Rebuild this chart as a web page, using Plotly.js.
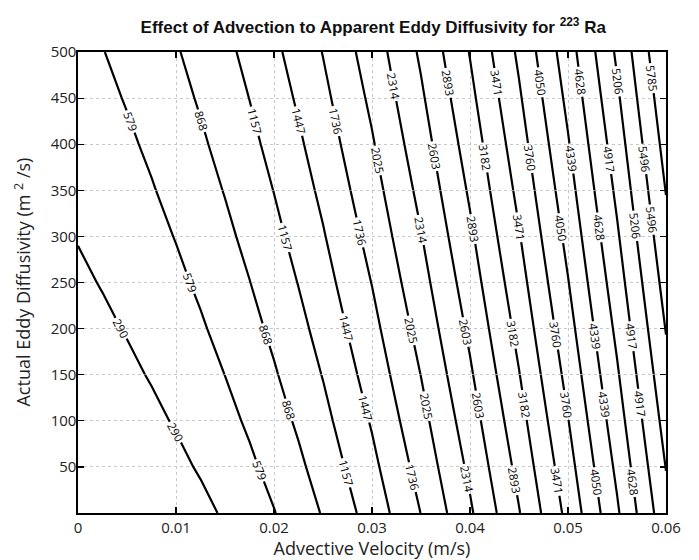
<!DOCTYPE html>
<html>
<head>
<meta charset="utf-8">
<script src="https://cdn.plot.ly/plotly-3.0.1.min.js"></script>
<style>html,body{margin:0;padding:0;background:#fff;}#chart{width:699px;height:560px;}</style>
</head>
<body>
<div id="chart"></div>
<script>
// Advective velocity (m/s)
const velocity = [0, 0.0025, 0.005, 0.0075, 0.01, 0.0125, 0.015, 0.0175, 0.02, 0.0225, 0.025,
                  0.03, 0.035, 0.04, 0.045, 0.05, 0.055, 0.06];
// Actual eddy diffusivity (m^2/s)
const diffusivity = [0, 50, 100, 150, 200, 250, 300, 350, 400, 450, 500];
// Apparent eddy diffusivity (m^2/s), one row per actual diffusivity
const apparentK0   = [0, 8.9, 35.5, 79.9, 142.1, 222.0, 319.7, 435.2, 568.4, 719.4, 888.1, 1278.9, 1740.7, 2273.6, 2877.5, 3552.5, 4298.5, 5115.6];
const apparentK50  = [50, 76.0, 113.5, 164.8, 231.3, 314.1, 413.7, 530.5, 664.6, 816.3, 985.6, 1377.1, 1839.4, 2372.6, 2976.7, 3651.8, 4398.0, 5215.1];
const apparentK100 = [100, 134.6, 180.0, 237.9, 309.8, 396.8, 499.7, 619.0, 755.2, 908.4, 1078.9, 1472.1, 1935.6, 2469.6, 3074.3, 3749.8, 4496.3, 5313.7];
const apparentK150 = [150, 191.2, 242.9, 306.5, 383.4, 474.6, 581.0, 703.2, 841.7, 996.8, 1168.9, 1564.5, 2029.6, 2564.8, 3170.4, 3846.7, 4593.6, 5411.4];
const apparentK200 = [200, 246.8, 303.9, 372.6, 454.0, 549.2, 659.0, 784.2, 925.2, 1082.4, 1256.3, 1654.7, 2121.9, 2658.6, 3265.3, 3942.4, 4690.0, 5508.3];
const apparentK250 = [250, 301.8, 363.7, 436.9, 522.5, 621.5, 734.7, 862.7, 1006.3, 1165.8, 1341.5, 1743.0, 2212.5, 2750.9, 3358.9, 4037.0, 4785.5, 5604.4];
const apparentK300 = [300, 356.3, 422.5, 499.9, 589.4, 692.0, 808.4, 939.4, 1085.5, 1247.2, 1425.0, 1829.7, 2301.6, 2841.9, 3451.5, 4130.7, 4880.1, 5699.8];
const apparentK350 = [350, 410.4, 480.7, 561.9, 655.1, 761.1, 880.6, 1014.4, 1163.1, 1327.1, 1506.8, 1914.9, 2389.5, 2931.8, 3543.0, 4223.5, 4973.9, 5794.5];
const apparentK400 = [400, 464.2, 538.3, 623.2, 719.8, 829.0, 951.6, 1088.2, 1239.3, 1405.6, 1587.3, 1998.9, 2476.1, 3020.6, 3633.5, 4315.4, 5066.9, 5888.4];
const apparentK450 = [450, 517.8, 595.4, 683.8, 783.7, 896.0, 1021.5, 1160.7, 1314.3, 1482.8, 1666.6, 2081.6, 2561.7, 3108.5, 3723.1, 4406.5, 5159.3, 5981.8];
const apparentK500 = [500, 571.2, 652.2, 743.8, 846.9, 962.2, 1090.5, 1232.3, 1388.3, 1559.0, 1744.9, 2163.3, 2646.3, 3195.4, 3812.0, 4496.9, 5250.9, 6074.4];
// Contour levels (labels 290, 579, 868, ... 5206, 5496, 5785)
const levelStart = 289.745;
const levelStep = 289.215;
const levelEnd = 5785.2;
const xTickVals = [0, 0.01, 0.02, 0.03, 0.04, 0.05, 0.06];
const xTickText = ['0', '0.01', '0.02', '0.03', '0.04', '0.05', '0.06'];
const yTickVals = [50, 100, 150, 200, 250, 300, 350, 400, 450, 500];

const zGrid = [apparentK0, apparentK50, apparentK100, apparentK150, apparentK200, apparentK250,
               apparentK300, apparentK350, apparentK400, apparentK450, apparentK500];

const font = 'Open Sans, Noto Sans, Liberation Sans, Arial, sans-serif';

// The contour field is drawn in three stacked bands (sharing their boundary rows)
// so that every line gets a label in each band, as in the original figure.
const bands = [[0, 3], [3, 7], [7, 10]];
const traces = bands.map(([a, b]) => ({
  type: 'contour',
  x: velocity,
  y: diffusivity.slice(a, b + 1),
  z: zGrid.slice(a, b + 1),
  showscale: false,
  hoverinfo: 'skip',
  contours: {
    coloring: 'none',
    start: levelStart,
    end: levelEnd,
    size: levelStep,
    showlabels: true,
    labelfont: {family: font, size: 11.5, color: '#000'},
    labelformat: '.0f'
  },
  line: {color: '#000', width: 2.2, smoothing: 0}
}));

const axisCommon = {
  showline: true,
  linecolor: '#000',
  linewidth: 1.6,
  mirror: 'ticks',
  ticks: 'inside',
  ticklen: 6,
  tickwidth: 1.2,
  tickcolor: '#000',
  showgrid: true,
  gridcolor: '#c8c8c8',
  gridwidth: 1,
  griddash: 'dot',
  zeroline: false,
  tickfont: {family: font, size: 15, color: '#222'}
};

const layout = {
  width: 699,
  height: 560,
  paper_bgcolor: '#fff',
  plot_bgcolor: '#fff',
  margin: {l: 78, r: 33, t: 52, b: 47},
  showlegend: false,
  title: {
    text: '<b>Effect of Advection to Apparent Eddy Diffusivity for <sup>223</sup> Ra</b>',
    font: {family: 'Liberation Sans Narrow, Arial Narrow, Liberation Sans, Arial, sans-serif', size: 17, color: '#111'},
    x: 0.534, xanchor: 'center', xref: 'container',
    y: 0.952, yanchor: 'middle', yref: 'container'
  },
  xaxis: Object.assign({}, axisCommon, {
    range: [0, 0.06],
    tickvals: xTickVals,
    ticktext: xTickText,
    title: {text: 'Advective Velocity (m/s)', font: {family: font, size: 18, color: '#222'}, standoff: 8}
  }),
  yaxis: Object.assign({}, axisCommon, {
    range: [0, 500],
    tickvals: yTickVals,
    ticklabelstandoff: -3
  }),
  annotations: [{
    text: 'Actual Eddy Diffusivity (m <sup>2</sup> /s)',
    xref: 'paper', yref: 'paper',
    x: -0.0952, y: 0.5, xanchor: 'center', yanchor: 'middle',
    textangle: -90, showarrow: false,
    font: {family: font, size: 18, color: '#222'}
  }]
};

Plotly.newPlot('chart', traces, layout, {displayModeBar: false, staticPlot: true});
</script>
</body>
</html>
